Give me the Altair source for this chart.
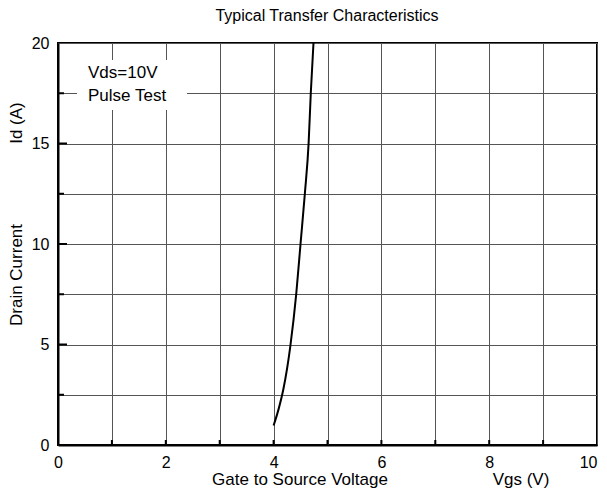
import altair as alt
import pandas as pd

# Curve data
vgs = [4.00, 4.09, 4.18, 4.31, 4.42, 4.50, 4.58, 4.65, 4.69, 4.74]
id_a = [0.97, 1.76, 2.76, 4.91, 7.52, 10.02, 12.51, 15.03, 17.51, 20.0]

x_ticks = [0, 1, 2, 3, 4, 5, 6, 7, 8, 9, 10]
y_ticks = [0, 2.5, 5, 7.5, 10, 12.5, 15, 17.5, 20]
x_inner_ticks = [1, 2, 3, 4, 5, 6, 7, 8, 9]
y_major_inner = [5, 10, 15]
y_minor_inner = [2.5, 7.5, 12.5, 17.5]

FONT = "Liberation Sans"

df = pd.DataFrame({"Vgs": vgs, "Id": id_a})

xs = alt.Scale(domain=[0, 10], nice=False)
ys = alt.Scale(domain=[0, 20], nice=False)

x_axis = alt.Axis(values=x_ticks, grid=True, ticks=False, title=None,
                  labelExpr="datum.value % 2 == 0 ? datum.label : ''",
                  labelFont=FONT, labelFontSize=16, labelColor="black",
                  labelPadding=9, domainColor="black", domainWidth=2,
                  gridColor="#555", gridWidth=1, labelFlush=False,
                  labelAlign={"condition": {"test": "datum.value == 10", "value": "right"},
                              "value": "center"})
y_axis = alt.Axis(values=y_ticks, grid=True, ticks=False, title=None,
                  labelExpr="datum.value % 5 == 0 ? datum.label : ''",
                  labelFont=FONT, labelFontSize=16, labelColor="black",
                  labelPadding=9, domainColor="black", domainWidth=2,
                  gridColor="#555", gridWidth=1, labelFlush=False)

line = alt.Chart(df).mark_line(color="black", strokeWidth=2, interpolate="monotone", clip=True).encode(
    x=alt.X("Vgs:Q", scale=xs, axis=x_axis),
    y=alt.Y("Id:Q", scale=ys, axis=y_axis),
)

xt_df = pd.DataFrame({"v": x_inner_ticks})
ymaj_df = pd.DataFrame({"v": y_major_inner})
ymin_df = pd.DataFrame({"v": y_minor_inner})

bottom_ticks = alt.Chart(xt_df).mark_rule(color="black", strokeWidth=2).encode(
    x=alt.X("v:Q", scale=xs), y=alt.value(402), y2=alt.value(397))
left_major = alt.Chart(ymaj_df).mark_rule(color="black", strokeWidth=2).encode(
    y=alt.Y("v:Q", scale=ys), x=alt.value(0), x2=alt.value(9))
left_minor = alt.Chart(ymin_df).mark_rule(color="black", strokeWidth=2).encode(
    y=alt.Y("v:Q", scale=ys), x=alt.value(0), x2=alt.value(6))

one = alt.Data(values=[{"a": 1}])

box = alt.Chart(one).mark_rect(color="white").encode(
    x=alt.value(19), x2=alt.value(129), y=alt.value(17), y2=alt.value(67)
)

def label(text, x, y, size=17, angle=0, align="left", baseline="middle"):
    return alt.Chart(one).mark_text(text=text, font=FONT, fontSize=size, color="black",
                                    align=align, baseline=baseline, angle=angle).encode(
        x=alt.value(x), y=alt.value(y))

ann1 = label("Vds=10V", 30, 29.5)
ann2 = label("Pulse Test", 30, 52.5)
title = label("Typical Transfer Characteristics", 269, -27, size=16, align="center")
xt1 = label("Gate to Source Voltage", 242, 442, align="center", baseline="alphabetic")
xt2 = label("Vgs  (V)", 463, 442, align="center", baseline="alphabetic")
yt1 = label("Drain Current", -41, 232, angle=270, align="center")
yt2 = label("Id  (A)", -41, 80, angle=270, align="center")

chart = alt.layer(line, bottom_ticks, left_major, left_minor, box, ann1, ann2, title,
                  xt1, xt2, yt1, yt2).properties(
    width=539, height=402,
    padding={"left": 50, "top": 35, "right": 2, "bottom": 44},
    autosize=alt.AutoSizeParams(type="none"),
    background="white",
).configure_view(stroke="black", strokeWidth=2)

chart.save("out.html", embed_options={"renderer": "svg", "actions": False})
